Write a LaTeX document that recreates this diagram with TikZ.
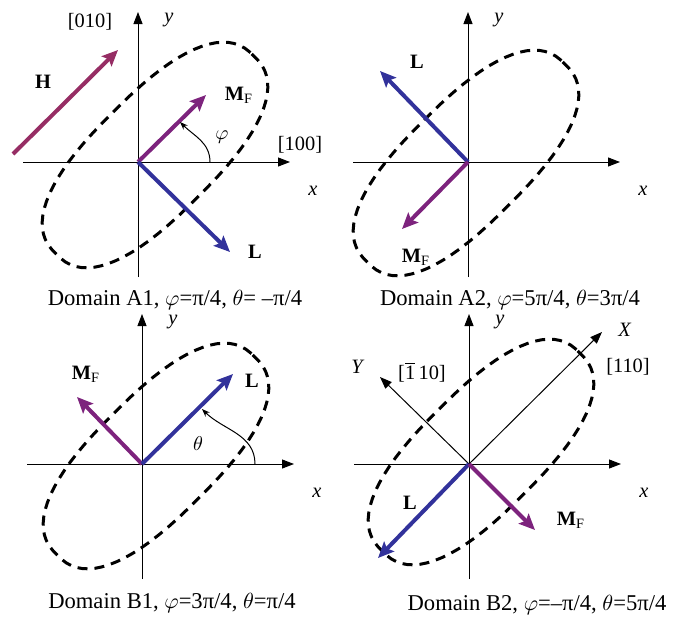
\documentclass[tikz,border=0pt]{standalone}
\usepackage{fontspec}
\setmainfont{Liberation Serif}
\usetikzlibrary{arrows.meta}

\definecolor{hcol}{RGB}{150,45,100}
\definecolor{mcol}{RGB}{125,35,125}
\definecolor{lcol}{RGB}{50,50,155}

\newcommand\capfont{\fontsize{11.3}{13}\selectfont}
\newcommand\labfont{\fontsize{10.2}{12}\selectfont}
\newcommand\MF{\textbf{M}\textsubscript{F}}

\begin{document}
\begin{tikzpicture}[
  x=0.5pt, y=0.5pt,
  axis/.style={-{Triangle[length=6pt,width=4.5pt]}, line width=0.5pt},
  vec/.style={-{Stealth[length=8pt,width=7pt,inset=1.5pt]}, line width=2pt},
  angarrow/.style={-{Stealth[length=4pt,width=3pt]}, line width=0.5pt},
  lab/.style={font=\labfont, inner sep=1pt},
  caption/.style={font=\capfont, inner sep=1pt},
  oval/.pic={
    % superellipse, exponent 2.5, long axis at 45 degrees
    \draw[rotate=45, line width=1.5pt, dash pattern=on 5pt off 3.5pt]
      plot[variable=\t, domain=2.5:357.5, samples=72]
        ({140*sign(cos(\t))*abs(cos(\t))^0.8}, {60*sign(sin(\t))*abs(sin(\t))^0.8})
      -- cycle;
  }
]
\useasboundingbox (0,0) rectangle (673,618);

% Axes of the four panels
\foreach \p/\ox/\oy/\dx/\dy in {A1/138/456/17/7, A2/468/456/-2/-1,
                               B1/142/154/14/8, B2/469/154/12/12} {
  \begin{scope}[shift={(\ox,\oy)}]
    \coordinate (\p-o) at (0,0);
    \coordinate (\p-xl) at (-115,0);
    \coordinate (\p-xr) at (152,0);
    \coordinate (\p-yb) at (0,-115);
    \coordinate (\p-yt) at (0,150);
    \pic at (\dx,\dy) {oval};
    \draw[axis] (\p-xl) -- (\p-xr);
    \draw[axis] (\p-yb) -- (\p-yt);
    \node[lab] (\p-x) at (175,-29) {\textit{x}};
    \node[lab] (\p-y) at (31,142) {\textit{y}};
  \end{scope}
}

% Domain A1
\begin{scope}[shift={(138,456)}]
  \coordinate (A1-hs) at (-125,8);
  \coordinate (A1-he) at (-20,112);
  \coordinate (A1-m) at (68,67);
  \coordinate (A1-l) at (92,-90);
  \coordinate (A1-phs) at (72,0);
  \coordinate (A1-phe) at (42,40);
  \draw[vec, hcol] (A1-hs) -- (A1-he);
  \draw[vec, mcol] (A1-o) -- (A1-m);
  \draw[vec, lcol] (A1-o) -- (A1-l);
  \draw[angarrow] (A1-phs) to[out=90, in=-45] (A1-phe);
  \node[lab] (A1-hlab) at (-95,80) {\textbf{H}};
  \node[lab] (A1-mlab) at (101,67) {\MF};
  \node[lab] (A1-llab) at (117,-90) {\textbf{L}};
  \node[lab] (A1-phi) at (84,25) {$\varphi$};
  \node[lab] (A1-010) at (-48,140) {[010]};
  \node[lab] (A1-100) at (162,17) {[100]};
\end{scope}
\node[caption] (A1-cap) at (175,318) {Domain A1, $\varphi$=π/4, $\theta$= –π/4};

% Domain A2
\begin{scope}[shift={(468,456)}]
  \coordinate (A2-l) at (-88,91);
  \coordinate (A2-m) at (-66,-67);
  \draw[vec, lcol] (A2-o) -- (A2-l);
  \draw[vec, mcol] (A2-o) -- (A2-m);
  \node[lab] (A2-llab) at (-51,100) {\textbf{L}};
  \node[lab] (A2-mlab) at (-52,-95) {\MF};
\end{scope}
\node[caption] (A2-cap) at (510,318) {Domain A2, $\varphi$=5π/4, $\theta$=3π/4};

% Domain B1
\begin{scope}[shift={(142,154)}]
  \coordinate (B1-m) at (-65,67);
  \coordinate (B1-l) at (91,90);
  \coordinate (B1-ths) at (113,0);
  \coordinate (B1-the) at (60,55);
  \draw[vec, mcol] (B1-o) -- (B1-m);
  \draw[vec, lcol] (B1-o) -- (B1-l);
  \draw[angarrow] (B1-ths) to[out=90, in=-45] (B1-the);
  \node[lab] (B1-mlab) at (-56,90) {\MF};
  \node[lab] (B1-llab) at (110,83) {\textbf{L}};
  \node[lab] (B1-theta) at (56,20) {$\theta$};
\end{scope}
\node[caption] (B1-cap) at (172,15) {Domain B1, $\varphi$=3π/4, $\theta$=π/4};

% Domain B2
\begin{scope}[shift={(469,154)}]
  \coordinate (B2-X) at (133,132);
  \coordinate (B2-Y) at (-89,87);
  \coordinate (B2-l) at (-91,-94);
  \coordinate (B2-m) at (66,-66);
  \draw[axis] (B2-o) -- (B2-X);
  \draw[axis] (B2-o) -- (B2-Y);
  \draw[vec, lcol] (B2-o) -- (B2-l);
  \draw[vec, mcol] (B2-o) -- (B2-m);
  \node[lab] (B2-Xlab) at (156,134) {\textit{X}};
  \node[lab] (B2-Ylab) at (-111,97) {\textit{Y}};
  \node[lab] (B2-110) at (159,97) {[110]};
  \node[lab] (B2-m110) at (-47,92) {[$\overline{\mbox{1}}$\,10]};
  \node[lab] (B2-llab) at (-59,-39) {\textbf{L}};
  \node[lab] (B2-mlab) at (102,-56) {\MF};
\end{scope}
\node[caption] (B2-cap) at (537,13) {Domain B2, $\varphi$=–π/4, $\theta$=5π/4};

\end{tikzpicture}
\end{document}
